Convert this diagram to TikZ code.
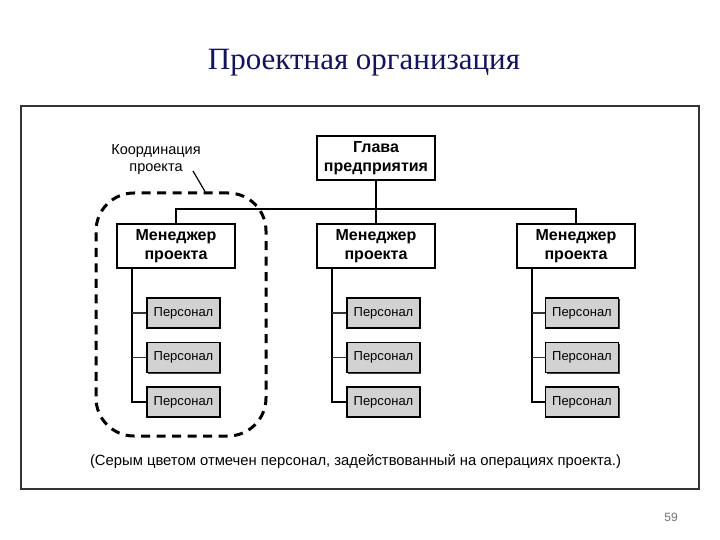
\documentclass[tikz,border=0pt]{standalone}
\usepackage{fontspec}
\setmainfont{Liberation Sans}
\newfontfamily\titlefont{Liberation Serif}
\usetikzlibrary{calc}
\definecolor{navy}{HTML}{14145A}
\definecolor{persgray}{HTML}{D2D2D2}
\tikzset{
  every node/.style={inner sep=0pt},
  boss/.style={draw=black, line width=1.3pt, fill=white, minimum width=118pt, minimum height=44pt, align=center, font=\fontsize{16}{18.5}\selectfont\bfseries},
  pers/.style={draw=black, line width=1.3pt, fill=persgray, minimum width=73pt, minimum height=30pt, font=\fontsize{13}{15}\selectfont},
  shadow/.style={fill=black!75},
  link/.style={line width=1.3pt, black},
  tick/.style={line width=1.1pt, black!80},
  coord/.style={draw=black, line width=3pt, dash pattern=on 9pt off 6.5pt, rounded corners=38pt, minimum width=170pt, minimum height=243pt},
}
\begin{document}
\begin{tikzpicture}[x=1pt, y=-1pt]
\useasboundingbox (0,0) rectangle (720,540);
\fill[white] (0,0) rectangle (720,540);
% title
\node[font=\titlefont\fontsize{31}{36}\selectfont, text=navy] (title) at (364,63) {Проектная организация};
% frame
\node[draw=black!80, line width=1.4pt, minimum width=678pt, minimum height=383pt] (frame) at (360,297.5) {};
% head
\node[boss] (g) at (376,158) {Глава\\предприятия};
% managers
\node[boss] (m1) at (176,246) {Менеджер\\проекта};
\node[boss] (m2) at (376,246) {Менеджер\\проекта};
\node[boss] (m3) at (576,246) {Менеджер\\проекта};
\coordinate (bar) at (376,209);
\draw[link] (g.south) -- (m2.north);
\draw[link] (m1.north) |- (bar) -| (m3.north);
% personnel
\foreach \i/\x in {1/183.5, 2/383.5, 3/582} {
  \foreach \j/\y in {1/313, 2/357.5, 3/402} {
    \fill[shadow] (\x-36.5+1.2,\y-15+1.2) rectangle (\x+36.5+1.2,\y+15+1.2);
    \node[pers] (p\i\j) at (\x,\y) {Персонал};
  }
  \coordinate (t\i) at ($(m\i.south west)+(15.5,0)$);
  \draw[link] (t\i) |- (p\i3.west);
  \draw[tick] (p\i1.west) -- (p\i1.west -| t\i);
  \draw[tick] (p\i2.west) -- (p\i2.west -| t\i);
}
% coordination loop
\node[coord] (loop) at (181,314.5) {};
\node[align=center, font=\fontsize{14.5}{17}\selectfont] (lab) at (156,160) {Координация\\проекта};
\coordinate (labend) at (193,171);
\draw[line width=1.2pt] (labend) -- ($(loop.north)+(24,0)$);
% caption
\node[font=\fontsize{14.8}{17}\selectfont] (cap) at (355.5,462) {(Серым цветом отмечен персонал, задействованный на операциях проекта.)};
% page number
\node[font=\fontsize{12}{14}\selectfont, text=black!55] (pg) at (671,517) {59};
\end{tikzpicture}
\end{document}
